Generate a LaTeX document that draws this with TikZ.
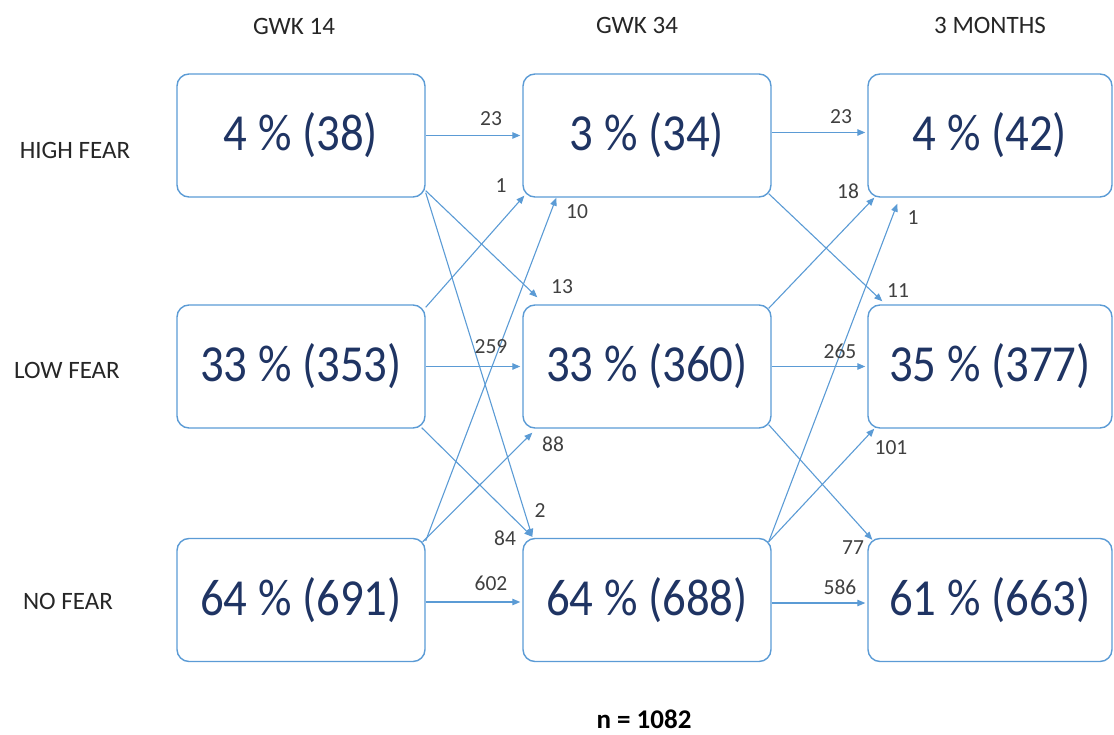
\documentclass[tikz,border=0pt]{standalone}
\usepackage{fontspec}
\setmainfont{Carlito}
\usetikzlibrary{arrows.meta}
\definecolor{boxblue}{RGB}{91,155,213}
\definecolor{navy}{RGB}{31,52,99}
\definecolor{labelgray}{RGB}{64,64,64}
\definecolor{headgray}{RGB}{38,38,38}
\newcommand\cellval[1]{\scalebox{0.9}[1]{#1}}

\begin{document}
\begin{tikzpicture}[x=1pt,y=-1pt,
  cell/.style={draw=boxblue, line width=1.4pt, rounded corners=12pt,
    minimum width=248pt, minimum height=123pt, inner sep=0pt,
    text=navy, font=\fontsize{52}{52}\selectfont},
  flow/.style={draw=boxblue, line width=1.1pt, -{Triangle[length=8pt,width=6.5pt]}},
  count/.style={text=labelgray, font=\fontsize{21.5}{21.5}\selectfont, inner sep=0pt},
  head/.style={text=headgray, font=\fontsize{25}{25}\selectfont, inner sep=0pt}]
\useasboundingbox (0,0) rectangle (1114,735);

% column headings
\node[head] (h1) at (294,26) {GWK 14};
\node[head] (h2) at (637,25) {GWK 34};
\node[head] (h3) at (990,25) {3 MONTHS};

% row headings
\node[head] (r1) at (75,150) {HIGH FEAR};
\node[head] (r2) at (67,370) {LOW FEAR};
\node[head] (r3) at (68,601) {NO FEAR};

% GWK 14
\node[cell] (a1) at (301,135.5) {\cellval{4 \% (38)}};
\node[cell] (a2) at (301,366.5) {\cellval{33 \% (353)}};
\node[cell] (a3) at (301,600) {\cellval{64 \% (691)}};
% GWK 34
\node[cell] (b1) at (647,135.5) {\cellval{3 \% (34)}};
\node[cell] (b2) at (647,366.5) {\cellval{33 \% (360)}};
\node[cell] (b3) at (647,600) {\cellval{64 \% (688)}};
% 3 months
\node[cell, minimum width=244pt] (c1) at (990,135.5) {\cellval{4 \% (42)}};
\node[cell, minimum width=244pt] (c2) at (990,366.5) {\cellval{35 \% (377)}};
\node[cell, minimum width=244pt] (c3) at (990,600) {\cellval{61 \% (663)}};

% transitions GWK 14 -> GWK 34
\draw[flow] (a1.east) -- ([xshift=-2pt]b1.west);
\draw[flow] ([shift={(0,-7)}]a1.south east) -- ([shift={(15,-7)}]b2.north west);
\draw[flow] ([shift={(0,-5)}]a1.south east) -- ([shift={(10,-1)}]b3.north west);
\draw[flow] ([shift={(0,3)}]a2.north east) -- ([shift={(2,-2)}]b1.south west);
\draw[flow] ([shift={(0,3)}]a3.north east) -- ([shift={(34,0)}]b1.south west);
\draw[flow] (a2.east) -- ([xshift=-2pt]b2.west);
\draw[flow] ([shift={(-4,-1)}]a2.south east) -- ([shift={(10,-1)}]b3.north west);
\draw[flow] ([shift={(-3,4)}]a3.north east) -- ([shift={(10,4)}]b2.south west);
\draw[flow] ([yshift=-2pt]a3.east) -- ([yshift=-2pt,xshift=-2pt]b3.west);

% transitions GWK 34 -> 3 months
\draw[flow] ([yshift=3pt]b1.east) -- ([yshift=3pt,xshift=-2pt]c1.west);
\draw[flow] ([shift={(-3,-4)}]b1.south east) -- ([shift={(15,-3)}]c2.north west);
\draw[flow] ([shift={(-3,4)}]b2.north east) -- ([shift={(7,0)}]c1.south west);
\draw[flow] ([shift={(-3,4)}]b3.north east) -- ([shift={(30,6)}]c1.south west);
\draw[flow] (b2.east) -- ([xshift=-2pt]c2.west);
\draw[flow] ([shift={(-3,-4)}]b2.south east) -- ([shift={(5,2)}]c3.north west);
\draw[flow] ([shift={(-3,4)}]b3.north east) -- ([shift={(7,0)}]c2.south west);
\draw[flow] ([yshift=-3pt]b3.east) -- ([yshift=-3pt,xshift=-2pt]c3.west);

% counts GWK 14 -> GWK 34
\node[count] (n11) at (491,119) {23};
\node[count] (n12) at (562,287) {13};
\node[count] (n13) at (540,511) {2};
\node[count] (n21) at (501,186) {1};
\node[count] (n31) at (577,212) {10};
\node[count] (n22) at (491,347) {259};
\node[count] (n23) at (505,538) {84};
\node[count] (n32) at (553,444) {88};
\node[count] (n33) at (491,583) {602};

% counts GWK 34 -> 3 months
\node[count] (m11) at (841,117) {23};
\node[count] (m12) at (898,291) {11};
\node[count] (m21) at (848,191) {18};
\node[count] (m31) at (913,218) {1};
\node[count] (m22) at (840,351) {265};
\node[count] (m32) at (891,448) {101};
\node[count] (m23) at (853,548) {77};
\node[count] (m33) at (840,587) {586};

% sample size
\node[head, font=\bfseries\fontsize{27}{27}\selectfont, text=black] (n) at (644,719) {n = 1082};
\end{tikzpicture}
\end{document}
